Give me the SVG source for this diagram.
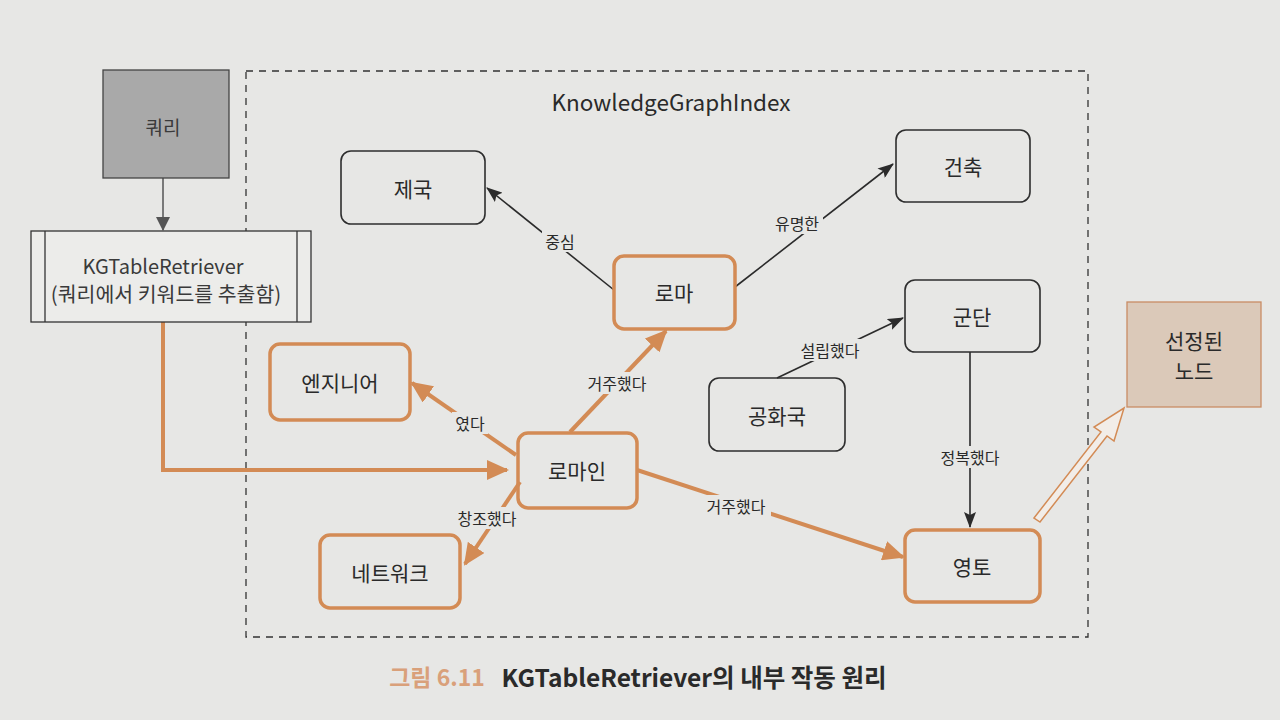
<svg xmlns="http://www.w3.org/2000/svg" width="1280" height="720" viewBox="0 0 1280 720">
<defs>
<marker id="ad" markerWidth="16" markerHeight="12" refX="15" refY="6" orient="auto" markerUnits="userSpaceOnUse" viewBox="0 0 16 12"><path d="M0,0 L16,6 L0,12 L3,6 z" fill="#2b2b2b"/></marker>
<marker id="ao" markerWidth="22" markerHeight="20" refX="20" refY="10" orient="auto" markerUnits="userSpaceOnUse" viewBox="0 0 22 20"><path d="M0,0 L22,10 L0,20 z" fill="#d38b55"/></marker>
<marker id="ag" markerWidth="14" markerHeight="14" refX="13" refY="7" orient="auto" markerUnits="userSpaceOnUse" viewBox="0 0 14 14"><path d="M0,0 L14,7 L0,14 z" fill="#555"/></marker>
</defs>
<style>
text{font-family:"Noto Sans CJK KR","Noto Sans",sans-serif;fill:#2a2a2a;text-anchor:middle;dominant-baseline:central}
.n{font-size:21px}
.l{font-size:16px}
.dk{fill:none;stroke:#2e2e2e;stroke-width:1.6}
.or{fill:none;stroke:#d38b55;stroke-width:3.5}
.ed{fill:none;stroke:#2b2b2b;stroke-width:1.6;marker-end:url(#ad)}
.eo{fill:none;stroke:#d38b55;stroke-width:4;marker-end:url(#ao)}
.bg{fill:#e7e7e5}
</style>
<rect width="1280" height="720" fill="#e7e7e5"/>
<g id="frame">
<rect x="246" y="71" width="842" height="566" fill="none" stroke="#333" stroke-width="1.3" stroke-dasharray="7,6"/>
<text x="671" y="101" style="font-size:22.5px">KnowledgeGraphIndex</text>
</g>
<g id="connectors">
<line x1="163" y1="178" x2="163" y2="230" stroke="#555" stroke-width="1.5" marker-end="url(#ag)"/>
<polyline class="eo" points="163,322 163,470 507,470"/>
<line class="ed" x1="614" y1="290" x2="487" y2="188"/>
<line class="ed" x1="735" y1="287" x2="893" y2="164"/>
<line class="eo" x1="570" y1="432" x2="666" y2="331"/>
<line class="eo" x1="516" y1="455" x2="412" y2="383"/>
<line class="eo" x1="520" y1="482" x2="465" y2="564"/>
<line class="eo" x1="637" y1="470" x2="903" y2="557"/>
<line class="ed" x1="777" y1="378" x2="903" y2="318"/>
<line class="ed" x1="970" y1="352" x2="970" y2="527"/>
<path d="M1034,518 L1101,432 L1094,427 L1124,408 L1114,441 L1107,436 L1040,522 Z" fill="#f2ede8" stroke="#d38b55" stroke-width="1.5"/>
<rect class="bg" x="542" y="230" width="36" height="22"/><text class="l" x="560" y="241">중심</text>
<rect class="bg" x="771" y="212" width="52" height="22"/><text class="l" x="797" y="223">유명한</text>
<rect class="bg" x="582" y="372" width="70" height="22"/><text class="l" x="617" y="383">거주했다</text>
<rect class="bg" x="452" y="412" width="36" height="22"/><text class="l" x="470" y="423">였다</text>
<rect class="bg" x="452" y="507" width="70" height="22"/><text class="l" x="487" y="518">창조했다</text>
<rect class="bg" x="701" y="495" width="70" height="22"/><text class="l" x="736" y="506">거주했다</text>
<rect class="bg" x="795" y="339" width="70" height="22"/><text class="l" x="830" y="350">설립했다</text>
<rect class="bg" x="935" y="446" width="70" height="22"/><text class="l" x="970" y="457">정복했다</text>
</g>
<g id="query">
<rect x="103" y="70" width="126" height="108" fill="#a9a9a9" stroke="#444" stroke-width="1.3"/>
<text x="163" y="126" style="font-size:19px;fill:#3a3a3a">쿼리</text>
</g>
<g id="retriever">
<rect x="31" y="231" width="280" height="91" fill="#ececea" stroke="#333" stroke-width="1.3"/>
<line x1="45" y1="231" x2="45" y2="322" stroke="#333" stroke-width="1.3"/>
<line x1="297" y1="231" x2="297" y2="322" stroke="#333" stroke-width="1.3"/>
<text x="163" y="265" style="font-size:20px;fill:#3a3a3a">KGTableRetriever</text>
<text x="166" y="293" style="font-size:20.5px;fill:#3a3a3a">(쿼리에서 키워드를 추출함)</text>
</g>
<g id="empire"><rect class="dk" x="341" y="151" width="144" height="73" rx="10"/><text class="n" x="413" y="188">제국</text></g>
<g id="architecture"><rect class="dk" x="896" y="130" width="134" height="72" rx="10"/><text class="n" x="963" y="166">건축</text></g>
<g id="rome"><rect class="or" x="614" y="256" width="121" height="73" rx="10"/><text class="n" x="674" y="292">로마</text></g>
<g id="legion"><rect class="dk" x="905" y="280" width="135" height="72" rx="10"/><text class="n" x="972" y="316">군단</text></g>
<g id="engineer"><rect class="or" x="270" y="344" width="140" height="76" rx="10"/><text class="n" x="340" y="382">엔지니어</text></g>
<g id="republic"><rect class="dk" x="709" y="378" width="136" height="73" rx="10"/><text class="n" x="777" y="415">공화국</text></g>
<g id="roman"><rect class="or" x="518" y="433" width="119" height="75" rx="10"/><text class="n" x="577" y="470">로마인</text></g>
<g id="network"><rect class="or" x="320" y="535" width="140" height="73" rx="10"/><text class="n" x="390" y="572">네트워크</text></g>
<g id="territory"><rect class="or" x="905" y="530" width="135" height="72" rx="10"/><text class="n" x="972" y="566">영토</text></g>
<g id="selected">
<rect x="1127" y="302" width="134" height="105" fill="#dbc9b9" stroke="#c98c64" stroke-width="1.3"/>
<text class="n" x="1194" y="340">선정된</text>
<text class="n" x="1194" y="370">노드</text>
</g>
<g id="caption">
<text x="437" y="676" style="font-size:23px;font-weight:bold;fill:#d9a07a">그림 6.11</text>
<text x="694" y="676" style="font-size:24.5px;font-weight:bold;fill:#2a2a2a">KGTableRetriever의 내부 작동 원리</text>
</g>
</svg>
